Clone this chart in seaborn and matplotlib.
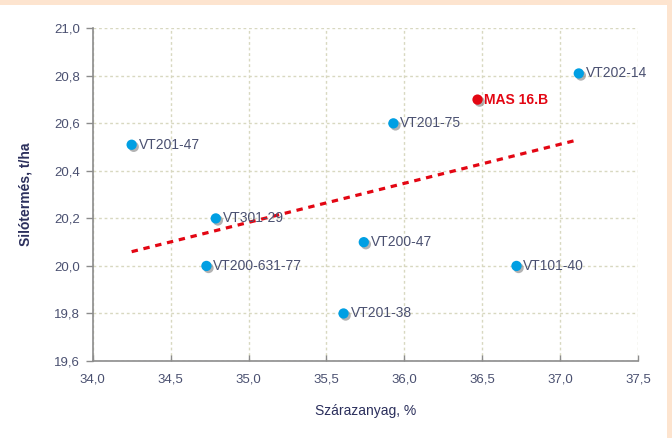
import numpy as np
import pandas as pd
import matplotlib
matplotlib.use("Agg")
import matplotlib.pyplot as plt
import matplotlib.patheffects as pe
from matplotlib.patches import Rectangle
import seaborn as sns

# Data
hybrids = ["VT201-47", "VT301-29", "VT200-631-77", "VT201-38", "VT200-47",
           "VT201-75", "MAS 16.B", "VT202-14", "VT101-40"]
dry_matter = [34.25, 34.79, 34.73, 35.61, 35.74, 35.93, 36.47, 37.12, 36.72]
silage_yield = [20.51, 20.20, 20.00, 19.80, 20.10, 20.60, 20.70, 20.81, 20.00]
highlight = "MAS 16.B"

# trend line ends as drawn in the reference
trend_x = [34.25, 37.11]
trend_y = [20.06, 20.53]

x_ticks = [34.0, 34.5, 35.0, 35.5, 36.0, 36.5, 37.0, 37.5]
y_ticks = [19.6, 19.8, 20.0, 20.2, 20.4, 20.6, 20.8, 21.0]

df = pd.DataFrame({"hybrid": hybrids, "dm": dry_matter, "yield": silage_yield})
df["group"] = np.where(df["hybrid"] == highlight, "mas", "other")

blue = "#009fe3"
red = "#e30613"
text_col = "#4a5070"
navy = "#2b2f5c"

sns.set_theme(style="white")
plt.rcParams["font.family"] = ["Liberation Sans", "DejaVu Sans"]

fig = plt.figure(figsize=(6.72, 4.38), dpi=100)
fig.patch.set_facecolor("white")
# peach frame on top and right
fig.patches.append(Rectangle((0, 1 - 5 / 438), 1, 5 / 438, transform=fig.transFigure,
                             facecolor="#fde4cf", edgecolor="none", zorder=0))
fig.patches.append(Rectangle((1 - 5 / 672, 0), 5 / 672, 1, transform=fig.transFigure,
                             facecolor="#fde4cf", edgecolor="none", zorder=0))

ax = fig.add_axes([92.7 / 672, 1 - 361 / 438, (638 - 92.7) / 672, (361 - 28.3) / 438])
ax.set_facecolor("none")

# trend line
sns.lineplot(x=trend_x, y=trend_y, ax=ax, color=red, linewidth=2.3,
             linestyle=(0, (2.0, 1.8)), zorder=2)

shadow = [pe.SimplePatchShadow(offset=(1.5, -1.5), shadow_rgbFace="#808080", alpha=0.6),
          pe.Normal()]
sns.scatterplot(data=df, x="dm", y="yield", hue="group",
                palette={"mas": red, "other": blue}, s=55, edgecolor="none",
                legend=False, ax=ax, zorder=3)
for coll in ax.collections:
    coll.set_path_effects(shadow)

for _, row in df.iterrows():
    is_mas = row["hybrid"] == highlight
    ax.annotate(row["hybrid"], (row["dm"], row["yield"]), xytext=(5, 0),
                textcoords="offset points", va="center", ha="left",
                fontsize=10, color=red if is_mas else text_col,
                fontweight="bold" if is_mas else "normal", zorder=4)

ax.set_xlim(34.0, 37.5)
ax.set_ylim(19.6, 21.0)
ax.set_xticks(x_ticks)
ax.set_yticks(y_ticks)
ax.set_xticklabels([f"{v:.1f}".replace(".", ",") for v in x_ticks])
ax.set_yticklabels([f"{v:.1f}".replace(".", ",") for v in y_ticks])

ax.grid(True, color="#d8d8c0", linestyle=(0, (2, 2)), linewidth=1)
ax.set_axisbelow(True)
for side in ["top", "right"]:
    ax.spines[side].set_visible(False)
for side in ["left", "bottom"]:
    ax.spines[side].set_color("#8c8c8c")
    ax.spines[side].set_linewidth(1.2)

ax.tick_params(axis="y", direction="out", length=5, width=1, color="#8c8c8c",
               labelsize=9.5, labelcolor=text_col, pad=4, left=True)
ax.tick_params(axis="x", direction="in", length=4, width=1, color="#8c8c8c",
               labelsize=9.5, labelcolor=text_col, pad=9, bottom=True)

ax.set_xlabel("Szárazanyag, %", fontsize=10, color=navy, labelpad=13)
ax.set_ylabel("Silótermés, t/ha", fontsize=10, color=navy, fontweight="bold",
              labelpad=16)

fig.savefig("out.png", dpi=100)
